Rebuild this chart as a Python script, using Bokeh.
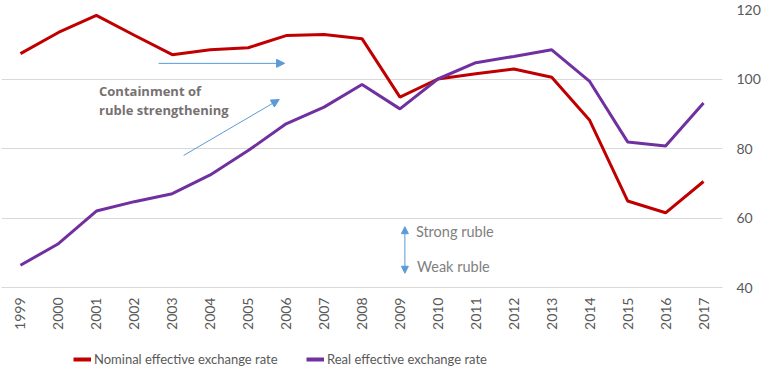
import math
from bokeh.plotting import figure
from bokeh.layouts import column
from bokeh.models import Legend, LegendItem, Arrow, NormalHead, FixedTicker, FactorRange, Range1d
from bokeh.core.properties import value
from bokeh.embed import file_html
from bokeh.resources import INLINE

years = [str(y) for y in range(1999, 2018)]
nominal = [107.3, 113.4, 118.3, 112.6, 107.0, 108.4, 109.0, 112.5, 112.8, 111.6,
           94.8, 100.0, 101.5, 102.9, 100.5, 88.1, 64.9, 61.5, 70.5]
real = [46.4, 52.6, 62.0, 64.7, 67.0, 72.4, 79.4, 87.1, 91.9, 98.4,
        91.4, 100.0, 104.7, 106.5, 108.4, 99.3, 81.9, 80.7, 93.1]
y_ticks = [40, 60, 80, 100, 120]
series_names = ["Nominal effective exchange rate", "Real effective exchange rate"]

# annotation anchors (synthetic category coordinates, value units)
note_lines = ["Containment of", "ruble strengthening"]
note_x = [2.57, 2.57]
note_y = [96.55, 91.1]
dir_labels = ["Strong ruble", "Weak ruble"]
dir_x = [10.92, 10.95]
dir_y = [56.0, 46.0]

RED = "#C00000"
PURPLE = "#7030A0"
BLUE = "#5B9BD5"
GREY = "#595959"
FONT = "Lato"

p = figure(x_range=FactorRange(*years), y_range=Range1d(40, 120),
           width=763, height=340, output_backend="svg", toolbar_location=None,
           y_axis_location="right", min_border_left=1, min_border_top=9,
           min_border_right=0, min_border_bottom=53)
p.x_range.range_padding = 0
p.outline_line_color = None

p.line(years, nominal, line_color=RED, line_width=3)
p.line(years, real, line_color=PURPLE, line_width=3)

p.yaxis.ticker = FixedTicker(ticks=y_ticks)
p.yaxis.axis_line_color = None
p.yaxis.major_tick_line_color = None
p.yaxis.minor_tick_line_color = None
p.yaxis.major_tick_out = 0
p.yaxis.major_tick_in = 0
p.yaxis.major_label_standoff = 14
p.yaxis.major_label_text_font = FONT
p.yaxis.major_label_text_font_size = "14px"
p.yaxis.major_label_text_color = GREY

p.xaxis.axis_line_color = "#D9D9D9"
p.xaxis.major_tick_line_color = None
p.xaxis.minor_tick_line_color = None
p.xaxis.major_tick_out = 0
p.xaxis.major_tick_in = 0
p.xaxis.major_label_orientation = math.pi / 2
p.xaxis.major_label_standoff = 10
p.xaxis.major_label_text_font = FONT
p.xaxis.major_label_text_font_size = "14px"
p.xaxis.major_label_text_color = GREY

p.xgrid.grid_line_color = None
p.ygrid.grid_line_color = "#D9D9D9"
p.ygrid.ticker = FixedTicker(ticks=y_ticks)

# annotations
head = dict(size=8, fill_color=BLUE, line_color=BLUE, line_width=1)
p.add_layout(Arrow(x_start=4.14, y_start=104.5, x_end=7.46, y_end=104.5,
                   line_color=BLUE, line_width=1, end=NormalHead(**head)))
p.add_layout(Arrow(x_start=4.80, y_start=78.0, x_end=7.32, y_end=94.1,
                   line_color=BLUE, line_width=1, end=NormalHead(**head)))
small = dict(size=7, fill_color=BLUE, line_color=BLUE, line_width=1)
p.add_layout(Arrow(x_start=10.63, y_start=50.8, x_end=10.63, y_end=57.5,
                   line_color=BLUE, line_width=1, end=NormalHead(**small)))
p.add_layout(Arrow(x_start=10.63, y_start=50.8, x_end=10.63, y_end=44.1,
                   line_color=BLUE, line_width=1, end=NormalHead(**small)))

p.text(x=note_x, y=note_y, text=note_lines, text_font=value("Open Sans"), text_font_style="bold",
       text_font_size="13px", text_color="#767171", text_baseline="middle", text_align="left")
p.text(x=dir_x, y=dir_y, text=dir_labels, text_font=value(FONT),
       text_font_size="14.5px", text_color="#808080", text_baseline="middle", text_align="left")

# legend strip
lg = figure(width=763, height=42, output_backend="svg", toolbar_location=None,
            x_range=Range1d(0, 1), y_range=Range1d(0, 1),
            min_border_left=0, min_border_right=0, min_border_top=0, min_border_bottom=0)
lg.axis.visible = False
lg.grid.visible = False
lg.outline_line_color = None
nan = float("nan")
d1 = lg.line(x=[nan], y=[nan], line_color=RED, line_width=4)
d2 = lg.line(x=[nan], y=[nan], line_color=PURPLE, line_width=4)
legend = Legend(items=[LegendItem(label=series_names[0], renderers=[d1]),
                       LegendItem(label=series_names[1], renderers=[d2])],
                orientation="horizontal", location=(72, 15), label_width=212, spacing=0,
                glyph_width=18, glyph_height=14, label_standoff=3,
                label_text_font=FONT, label_text_font_size="13px",
                label_text_color=GREY, border_line_color=None, background_fill_alpha=0,
                padding=0, margin=0)
lg.add_layout(legend, "center")

layout = column(p, lg, spacing=0)
open("out.html", "w").write(file_html(layout, INLINE))
